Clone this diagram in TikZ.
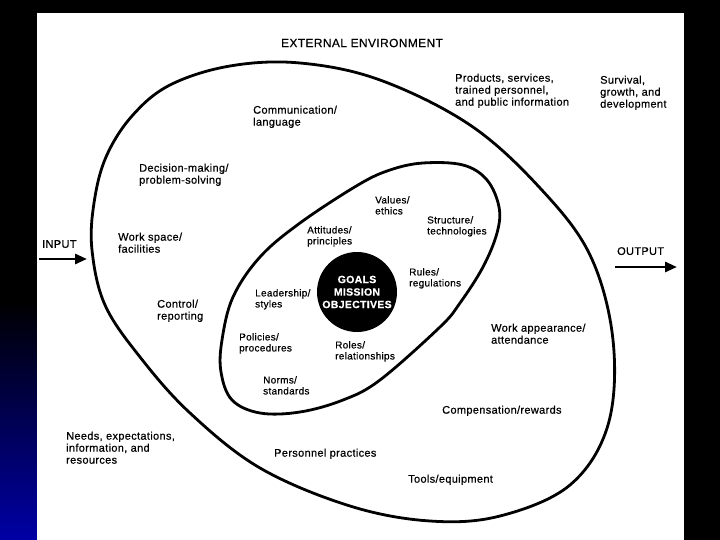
\documentclass[tikz,border=0pt]{standalone}
\usepackage{fontspec}
\setmainfont{Liberation Sans}
\newfontfamily\lblfont{Liberation Sans}[LetterSpace=3,FakeBold=0.5]
\usetikzlibrary{arrows.meta}
\definecolor{stripblue}{RGB}{0,0,165}
\definecolor{midblue}{RGB}{0,0,110}
\tikzset{
  outerlbl/.style={anchor=north west, inner sep=0pt, align=left, font=\lblfont\fontsize{11}{12}\selectfont},
  innerlbl/.style={anchor=north west, inner sep=0pt, align=left, font=\lblfont\fontsize{10}{11}\selectfont},
  ring/.style={line width=2.8pt, line join=round},
  flowarrow/.style={line width=2.8pt, -{Triangle[length=12pt,width=10pt]}},
  goalsty/.style={circle, fill=black, minimum size=80pt, inner sep=0pt, align=center, text=white,
    font=\bfseries\lblfont\fontsize{10.5}{12.5}\selectfont}
}
\begin{document}
\begin{tikzpicture}[x=1pt,y=-1pt]
\useasboundingbox (0,0) rectangle (720,540);
% background
\fill[black] (0,0) rectangle (720,540);
\shade[top color=black, middle color=midblue, bottom color=stripblue] (0,300) rectangle (37,540);
\fill[white] (37,13) rectangle (684,540);
% outer environment boundary
\draw[ring] plot[smooth cycle, tension=0.6] coordinates {
 (92,250) (94,203) (106,157) (132,116) (170,85) (230,66) (300,63) (380,80) (470,125)
 (540,188) (590,255) (613,340) (608,425) (570,485) (500,516) (430,521)
 (350,506) (260,468) (190,413) (140,357) (105,305)};
% inner boundary
\draw[ring] plot[smooth cycle, tension=0.6] coordinates {
 (358,185) (300,223) (260,257) (233,297) (222,340) (221,372) (232,400) (260,413)
 (300,412) (343,400) (380,380) (440,327) (460,303) (483,267) (497,233) (499,207)
 (487,180) (463,165) (423,163) (390,170)};
% centre
\node[goalsty] (goals) at (357,292) {GOALS\\MISSION\\OBJECTIVES};
% title
\node[anchor=center, inner sep=0pt, font=\lblfont\fontsize{12}{14}\selectfont] (ext) at (362,43) {EXTERNAL ENVIRONMENT};
% outer labels
\node[outerlbl] (comm) at (253,105.5) {Communication/\\language};
\node[outerlbl] (dec) at (139,163.5) {Decision-making/\\problem-solving};
\node[outerlbl] (work) at (118,232.5) {Work space/\\facilities};
\node[outerlbl] (input) at (42,240) {INPUT};
\node[outerlbl] (ctrl) at (157,299.5) {Control/\\reporting};
\node[outerlbl] (prod) at (455,73.5) {Products, services,\\trained personnel,\\and public information};
\node[outerlbl] (surv) at (600,75.5) {Survival,\\growth, and\\development};
\node[outerlbl] (output) at (617,247) {OUTPUT};
\node[outerlbl] (wapp) at (491,323.5) {Work appearance/\\attendance};
\node[outerlbl] (comp) at (442,405.5) {Compensation/rewards};
\node[outerlbl] (tools) at (408,474.5) {Tools/equipment};
\node[outerlbl] (pers) at (274,448.5) {Personnel practices};
\node[outerlbl] (needs) at (66,431.5) {Needs, expectations,\\information, and\\resources};
% inner labels
\node[innerlbl] (att) at (307,226) {Attitudes/\\principles};
\node[innerlbl] (val) at (375,196) {Values/\\ethics};
\node[innerlbl] (struct) at (427,216) {Structure/\\technologies};
\node[innerlbl] (rules) at (409,268) {Rules/\\regulations};
\node[innerlbl] (lead) at (255,289) {Leadership/\\styles};
\node[innerlbl] (pol) at (239,333) {Policies/\\procedures};
\node[innerlbl] (roles) at (335,341) {Roles/\\relationships};
\node[innerlbl] (norms) at (263,376) {Norms/\\standards};
% arrows
\coordinate (inS) at (39,259);
\coordinate (inE) at (87,259);
\coordinate (outS) at (615,267);
\coordinate (outE) at (677,267);
\draw[flowarrow] (inS) -- (inE);
\draw[flowarrow] (outS) -- (outE);
\end{tikzpicture}
\end{document}
